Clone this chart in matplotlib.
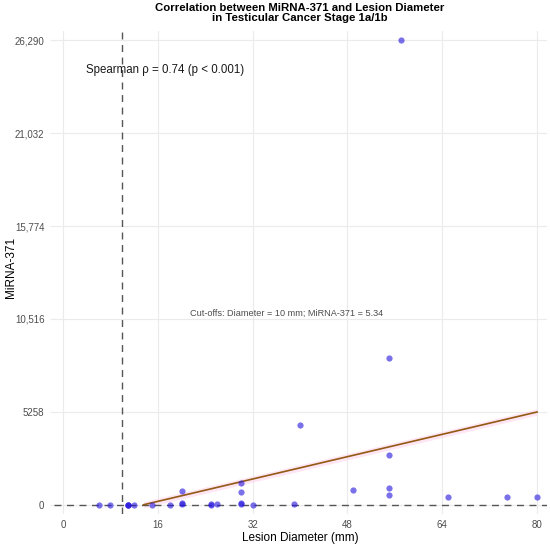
import numpy as np
import matplotlib
matplotlib.use('Agg')
import matplotlib.pyplot as plt

plt.rcParams['font.family'] = ['Liberation Sans', 'DejaVu Sans']

# lesion diameter (mm) and MiRNA-371 values
diameter = [6, 8, 11, 11, 11, 12, 15, 18, 20, 20, 20, 25, 25, 26, 30, 30, 30, 30,
            32, 39, 40, 49, 55, 55, 55, 55, 57, 65, 75, 80]
mirna = [0, 0, 0, 0, 0, 0, 0, 0, 100, 30, 800, 60, 10, 50, 1230, 740, 100, 20,
         0, 60, 4520, 850, 8310, 2810, 940, 550, 26290, 410, 410, 410]

# fitted line end points and band half width
fit_x = [13.6, 80]
fit_y = [0, 5250]
band = 180

cut_diameter = 10
cut_mirna = 5.34

x_ticks = [0, 16, 32, 48, 64, 80]
y_ticks = [0, 5258, 10516, 15774, 21032, 26290]
y_labels = ['0', '5258', '10,516', '15,774', '21,032', '26,290']

fig = plt.figure(figsize=(5.5, 5.47), dpi=100)
ax = fig.add_axes([0.0973, 0.0603, 0.8964, 0.8830])

ax.fill_between(fit_x, np.array(fit_y) - band, np.array(fit_y) + band,
                color='#ffc8e8', alpha=0.45, linewidth=0, zorder=1)
ax.plot(fit_x, fit_y, color='#935a14', linewidth=1.2, zorder=3)

ax.scatter(diameter, mirna, s=20, color='#2818dc', alpha=0.62,
           linewidths=0, zorder=4)

ax.axvline(cut_diameter, color='#555555', linestyle=(0, (5, 4)), linewidth=1.0, zorder=2)
ax.axhline(cut_mirna, color='#555555', linestyle=(0, (5, 4)), linewidth=1.0, zorder=2)

ax.text(17.2, 24600, 'Spearman ρ = 0.74 (p < 0.001)', fontsize=8.3,
        ha='center', va='center', color='#1a1a1a')
ax.text(37.7, 10850, 'Cut-offs: Diameter = 10 mm; MiRNA-371 = 5.34', fontsize=6.6,
        ha='center', va='center', color='#4d4d4d')

ax.set_xlim(-1.6, 81.6)
ax.set_ylim(-526, 26816)
ax.set_xticks(x_ticks)
ax.set_yticks(y_ticks)
ax.set_yticklabels(y_labels)

ax.grid(True, color='#ebebeb', linewidth=0.8)
ax.set_axisbelow(True)
for s in ax.spines.values():
    s.set_visible(False)
ax.tick_params(axis='both', colors='#ebebeb', labelcolor='#4d4d4d', labelsize=7, length=3, width=0.8)
ax.tick_params(axis='x', length=0, pad=4)

ax.set_xlabel('Lesion Diameter (mm)', fontsize=8.5, labelpad=2)
ax.set_ylabel('MiRNA-371', fontsize=8.5, va='center')
ax.yaxis.set_label_coords(-0.086, 0.51)
ax.set_title('Correlation between MiRNA-371 and Lesion Diameter\nin Testicular Cancer Stage 1a/1b',
             fontsize=8.2, fontweight='bold', linespacing=1.05, pad=7)

fig.savefig('out.png', dpi=100)
